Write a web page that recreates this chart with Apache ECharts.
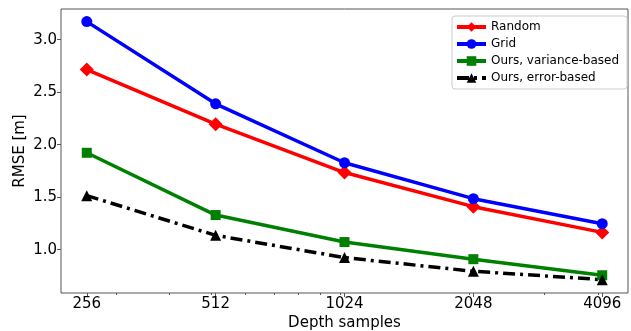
<!DOCTYPE html>
<html>
<head>
<meta charset="utf-8">
<script src="https://cdn.jsdelivr.net/npm/echarts@6/dist/echarts.min.js"></script>
<style>
  html, body { margin: 0; padding: 0; background: #fff; }
  #chart { width: 631px; height: 331px; }
</style>
</head>
<body>
<div id="chart"></div>
<script>
const samples = [256, 512, 1024, 2048, 4096]
const random = [2.715, 2.195, 1.735, 1.41, 1.165]
const grid = [3.172, 2.389, 1.828, 1.486, 1.248]
const oursVariance = [1.923, 1.33, 1.073, 0.91, 0.757]
const oursError = [1.515, 1.137, 0.925, 0.795, 0.715]
const yTicks = [1.0, 1.5, 2.0, 2.5, 3.0]
const minorTicks = [300, 400, 500, 600, 700, 800, 900, 1000, 2000, 3000, 4000]

const font = 'DejaVu Sans'
const frame = '#555'

const pts = (vals) => samples.map((s, i) => [Math.log2(s), vals[i]])

const myChart = echarts.init(document.getElementById('chart'))

const line = (name, vals, color, symbol, size, type) => ({
  name,
  type: 'line',
  data: pts(vals),
  symbol,
  symbolSize: size,
  lineStyle: { color, width: 3.5, type: type || 'solid' },
  itemStyle: { color },
  showSymbol: true,
})

const option = {
  animation: false,
  textStyle: { fontFamily: font },
  grid: {
    left: 61, right: 3, top: 9, bottom: 38,
    outerBoundsMode: 'none',
    containLabel: false,
    show: true, borderColor: frame, borderWidth: 1,
  },
  legend: {
    orient: 'vertical',
    left: 452, top: 16,
    width: 172,
    padding: [5, 8, 5, 3],
    itemGap: 5,
    itemWidth: 29,
    itemHeight: 12,
    borderColor: '#ccc',
    borderWidth: 1,
    borderRadius: 3,
    backgroundColor: '#fff',
    lineStyle: { width: 4 },
    textStyle: { fontFamily: font, fontSize: 12, color: '#000' },
    data: ['Random', 'Grid', 'Ours, variance-based', 'Ours, error-based'],
  },
  xAxis: [
    {
      type: 'value',
      min: 7.8, max: 12.2,
      name: 'Depth samples',
      nameLocation: 'middle',
      nameGap: 23,
      nameMoveOverlap: false,
      nameTextStyle: { fontFamily: font, fontSize: 15, color: '#000' },
      axisLine: { show: false },
      splitLine: { show: false },
      axisTick: { show: true, length: 4, inside: false, lineStyle: { color: frame },
        customValues: samples.map(s => Math.log2(s)) },
      axisLabel: {
        customValues: samples.map(s => Math.log2(s)),
        formatter: v => String(Math.round(Math.pow(2, v))),
        fontFamily: font, fontSize: 15, color: '#000', margin: 4,
      },
    },
    {
      type: 'value',
      min: 7.8, max: 12.2,
      position: 'bottom',
      axisLine: { show: false },
      splitLine: { show: false },
      axisTick: { show: true, length: 2, lineStyle: { color: frame },
        customValues: minorTicks.map(s => Math.log2(s)) },
      axisLabel: { show: false },
    },
  ],
  yAxis: {
    type: 'value',
    min: 0.588, max: 3.292,
    name: 'RMSE [m]',
    nameLocation: 'middle',
    nameGap: 33,
    nameMoveOverlap: false,
    nameTextStyle: { fontFamily: font, fontSize: 15, color: '#000' },
    axisLine: { show: false },
    splitLine: { show: false },
    axisTick: { show: true, length: 4, lineStyle: { color: frame }, customValues: yTicks },
    axisLabel: {
      customValues: yTicks,
      formatter: v => v.toFixed(1),
      fontFamily: font, fontSize: 15, color: '#000', margin: 4,
    },
  },
  series: [
    line('Random', random, '#ff0000', 'diamond', 14),
    line('Grid', grid, '#0000ff', 'circle', 11),
    line('Ours, variance-based', oursVariance, '#008000', 'rect', 10),
    line('Ours, error-based', oursError, '#000000', 'triangle', 11, [12, 5, 3, 5]),
  ],
}

myChart.setOption(option)
</script>
</body>
</html>
